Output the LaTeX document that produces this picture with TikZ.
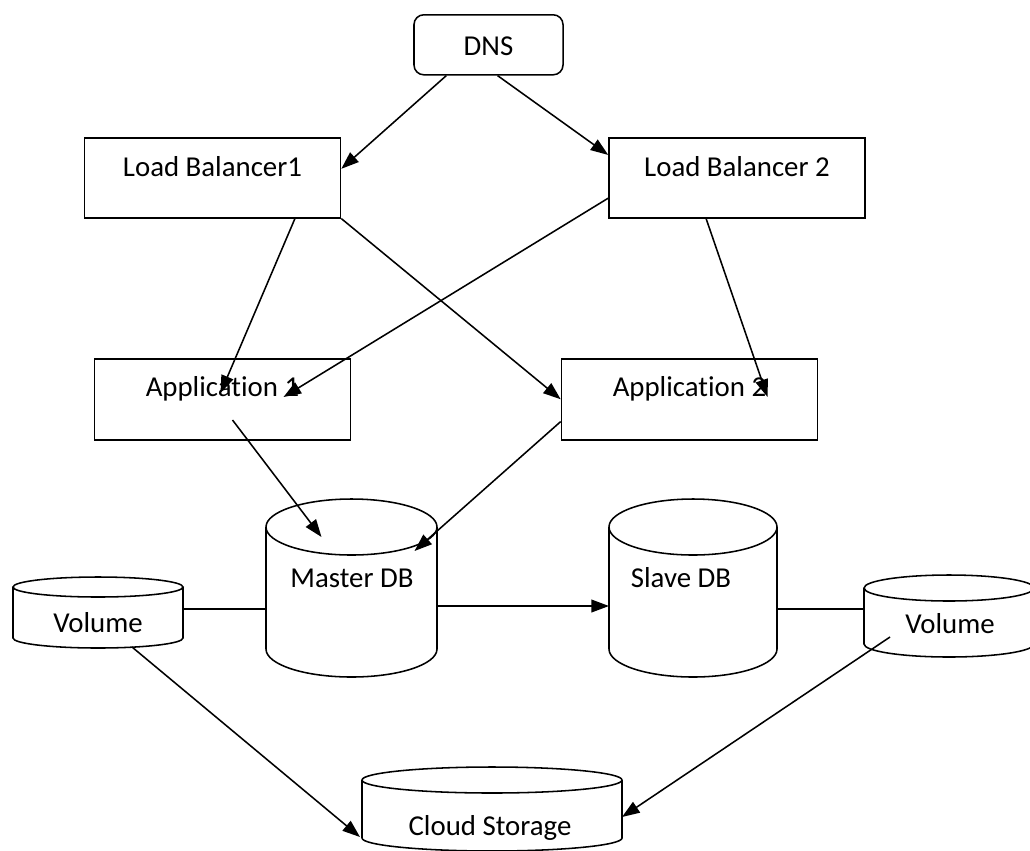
\documentclass[tikz,border=0pt]{standalone}
\usepackage{fontspec}
\setmainfont{Carlito}[Ligatures={NoCommon}]
\usetikzlibrary{arrows.meta,calc}

\begin{document}
\begin{tikzpicture}[x=0.025cm,y=-0.025cm,line width=1.1pt,font=\fontsize{20.5}{24}\selectfont,
  box/.style={draw,inner sep=0pt,minimum width=6.4cm,anchor=north},
  lbbox/.style={box,text height=27.7pt,text depth=29.2pt},
  appbox/.style={box,text height=27pt,text depth=30.6pt},
  arr/.style={-{Triangle[length=12.5pt,width=9pt]}}]

\useasboundingbox (0,0) rectangle (1030,850);
\clip (0,0) rectangle (1030,850);

\begin{scope}
\node[draw,rounded corners=7pt,inner sep=0pt,minimum width=3.725cm,text height=29.2pt,text depth=13.5pt,anchor=north] (dns) at (488.5,14) {DNS};
\node[lbbox] (lb1) at (212.5,137) {Load Balancer1};
\node[lbbox] (lb2) at (737,137) {Load Balancer 2};
\node[appbox] (app1) at (222.5,358) {Application 1};
\node[appbox] (app2) at (689.5,358) {Application 2};

\coordinate (mdb-top) at (351.5,527);
\coordinate (sdb-top) at (693,527);
\coordinate (vol1-top) at (98,587);
\coordinate (vol2-top) at (949,588);
\coordinate (cloud-top) at (492,780);

\draw (mdb-top) ellipse (85.5 and 28);
\draw (266,527) -- (266,649) arc (180:0:85.5 and 28) -- (437,527);
\draw (sdb-top) ellipse (84 and 28);
\draw (609,527) -- (609,649) arc (180:0:84 and 28) -- (777,527);
\draw (vol1-top) ellipse (85 and 10);
\draw (13,587) -- (13,638) arc (180:0:85 and 10) -- (183,587);
\draw (vol2-top) ellipse (85 and 13);
\draw (864,588) -- (864,644) arc (180:0:85 and 13) -- (1034,588);
\draw (cloud-top) ellipse (130 and 13);
\draw (362,780) -- (362,838) arc (180:0:130 and 13) -- (622,780);

\node[anchor=base] (mdb) at (352,587) {Master DB};
\node[anchor=base] (sdb) at (681,587) {Slave DB};
\node[anchor=base] (vol1) at (98,632) {Volume};
\node[anchor=base] (vol2) at (950,633) {Volume};
\node[anchor=base] (cloud) at (490,835) {Cloud Storage};

\draw[arr] ($(dns.south west)!0.22!(dns.south east)$) -- ($(lb1.north east)!0.39!(lb1.south east)$);
\draw[arr] ($(dns.south west)!0.56!(dns.south east)$) -- ($(lb2.north west)!0.22!(lb2.south west)$);
\draw[arr] ($(lb1.south west)!0.82!(lb1.south east)$) -- ($(app1.north)+(-2,35)$);
\draw[arr] ($(lb2.north west)!0.75!(lb2.south west)$) -- ($(app1.north)+(61,39)$);
\draw[arr] (lb1.south east) -- (app2.west);
\draw[arr] ($(lb2.south west)!0.38!(lb2.south east)$) -- ($(app2.north)+(78,39)$);
\draw[arr] ($(app1.north)+(10,62)$) -- ($(mdb-top)+(-30,10)$);
\draw[arr] ($(app2.north west)!0.77!(app2.south west)$) -- ($(mdb-top)+(63,24)$);
\draw[arr] ($(mdb-top)+(85.5,79)$) -- ($(sdb-top)+(-84,79)$);
\draw ($(vol1-top)+(85,22)$) -- ($(mdb-top)+(-85.5,82)$);
\draw ($(sdb-top)+(84,82)$) -- ($(vol2-top)+(-85,21)$);
\draw[arr] ($(vol1-top)+(34,60)$) -- ($(cloud-top)+(-132,57)$);
\draw[arr] ($(vol2-top)+(-59,49)$) -- ($(cloud-top)+(130,37)$);
\end{scope}

\end{tikzpicture}
\end{document}
